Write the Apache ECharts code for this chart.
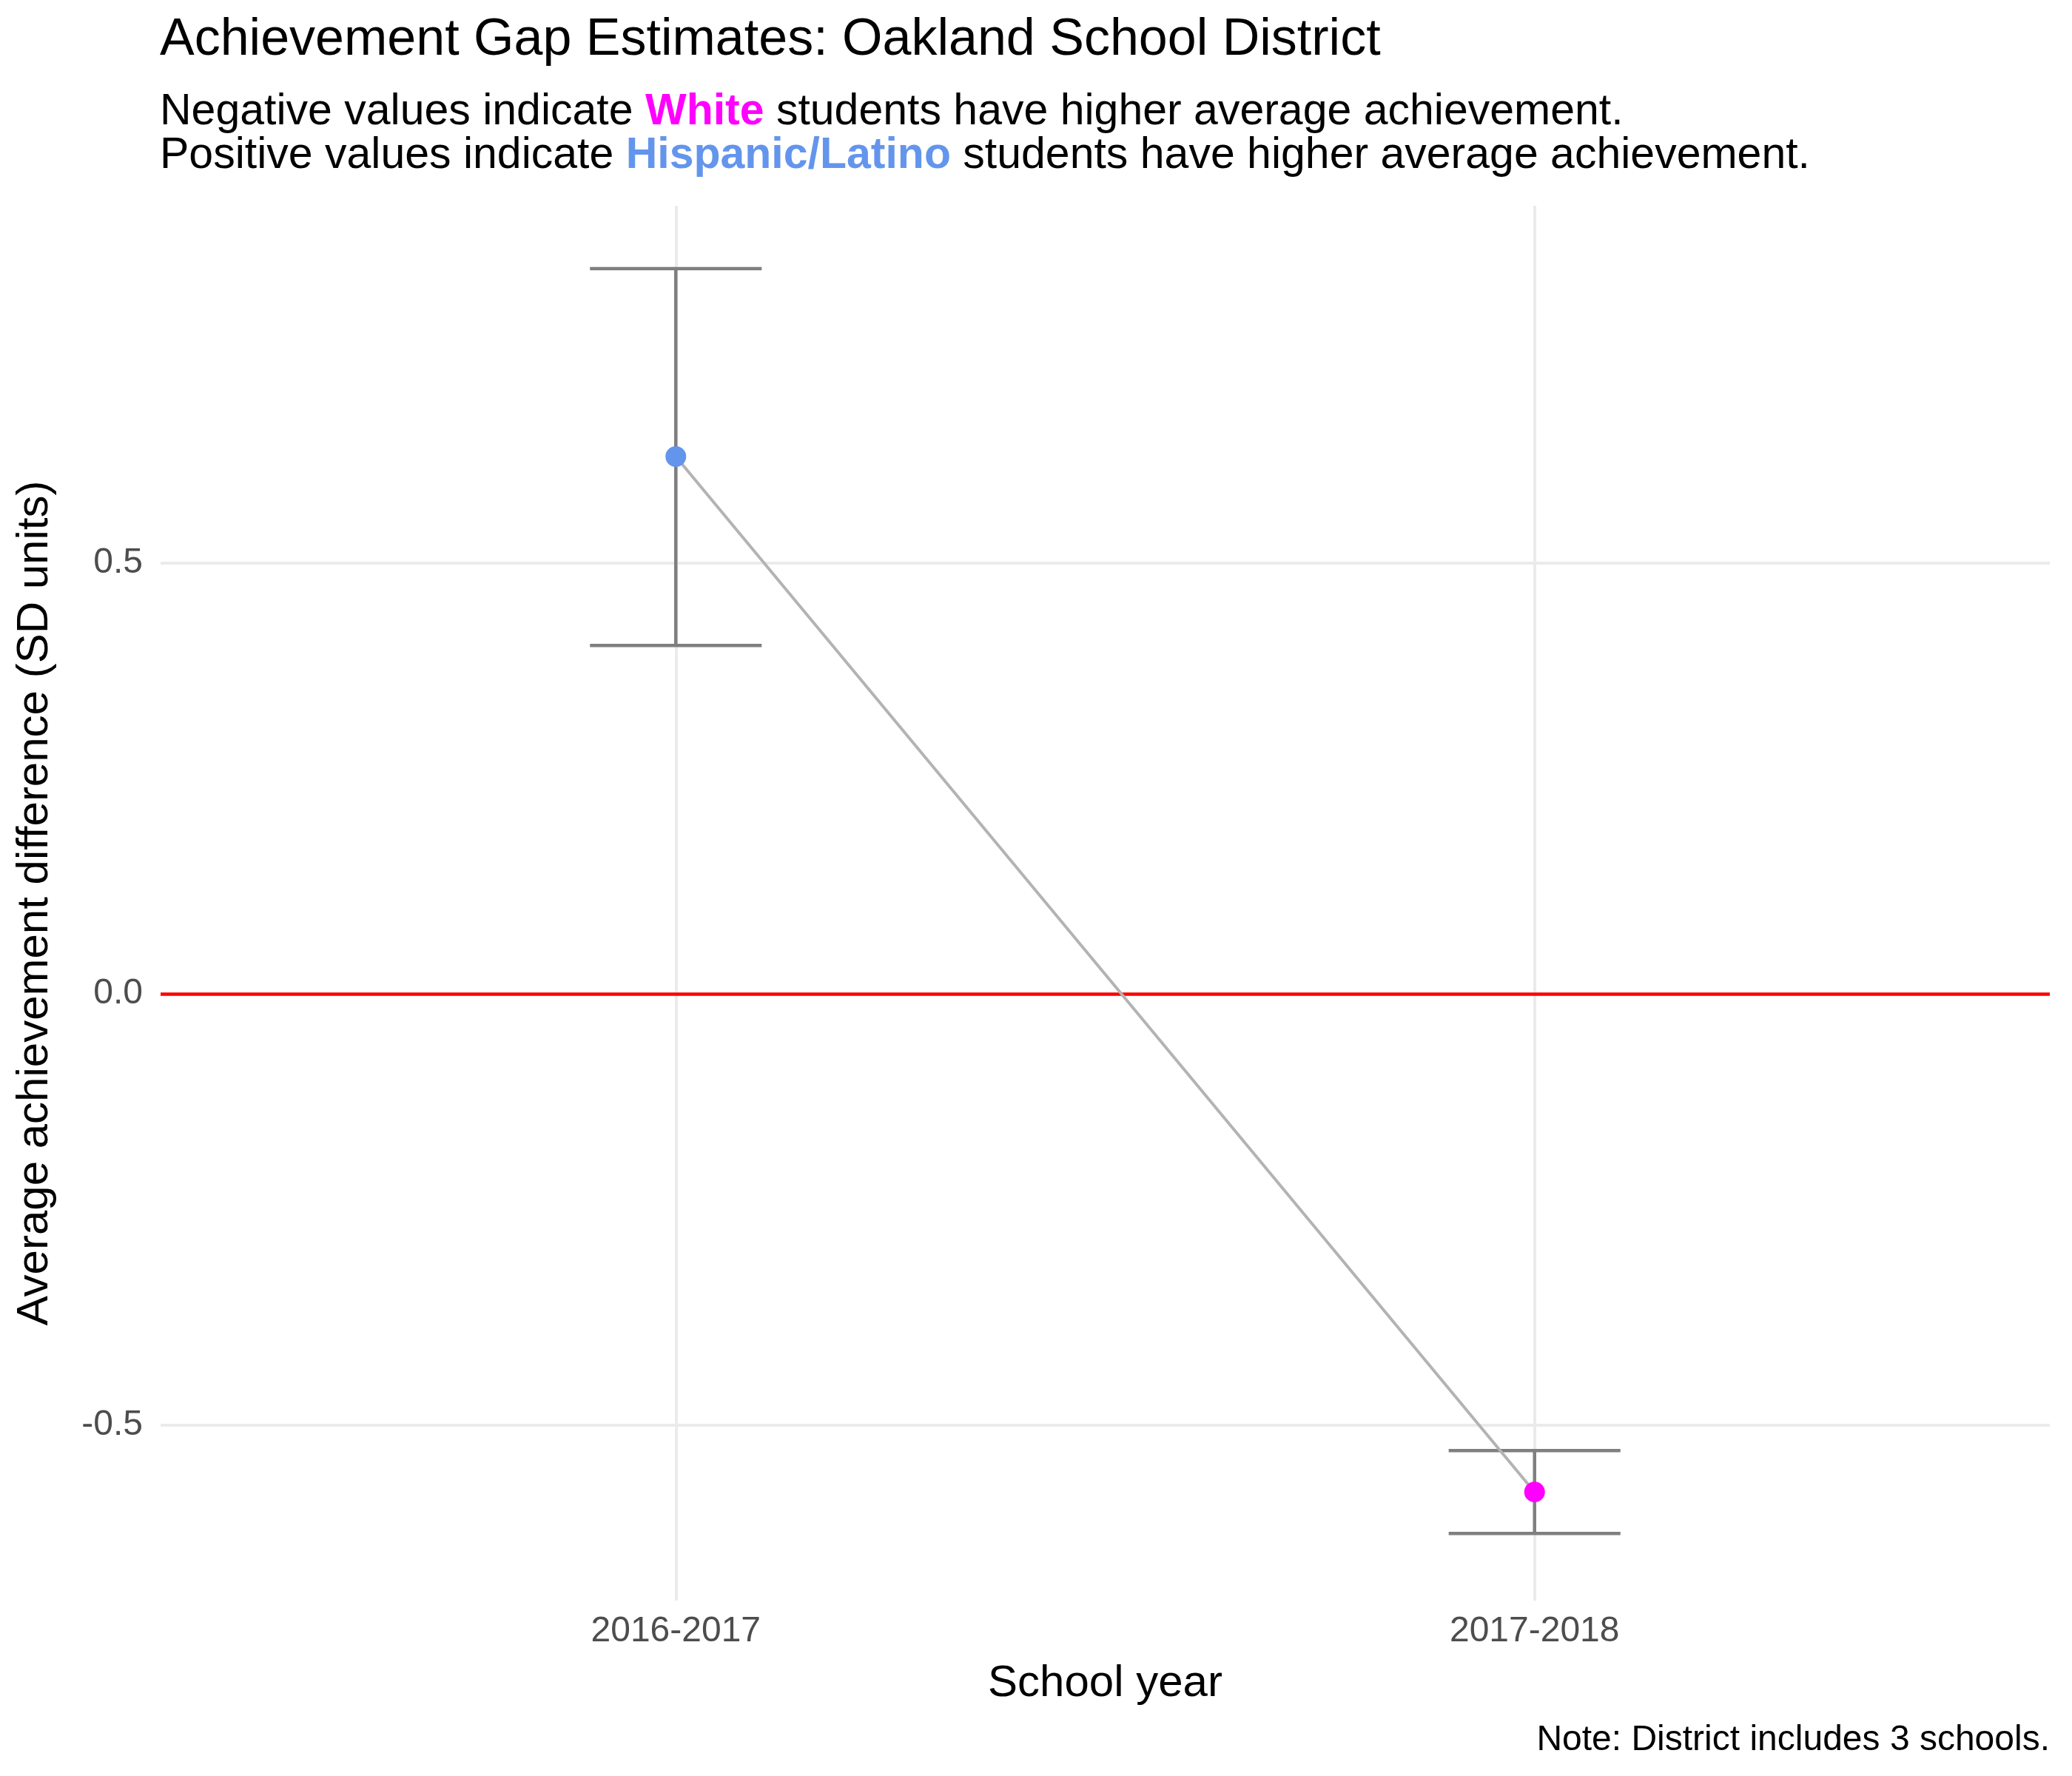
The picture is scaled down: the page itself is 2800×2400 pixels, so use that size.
<!DOCTYPE html>
<html><head><meta charset="utf-8">
<script src="https://cdn.jsdelivr.net/npm/echarts@6/dist/echarts.min.js"></script>
<style>html,body{margin:0;background:#fff}#chart{width:2800px;height:2400px}</style>
</head><body><div id="chart"></div>
<script>
var years = ['2016-2017', '2017-2018'];
var gapEstimate = [0.623, -0.578];
var ciLower = [0.404, -0.626];
var ciUpper = [0.841, -0.530];
var pointColors = ['#6495ED', '#FF00FF'];
var yTicks = [-0.5, 0, 0.5];

var chart = echarts.init(document.getElementById('chart'));
var font = 'Liberation Sans, Arial, Helvetica, sans-serif';

var pts = years.map(function (y, i) { return [i + 1, gapEstimate[i]]; });
var bars = years.map(function (y, i) { return [i + 1, ciLower[i], ciUpper[i]]; });

var option = {
    animation: false,
    textStyle: {fontFamily: font},
    grid: {left: 217, right: 30, top: 278, bottom: 237},
    graphic: [
        {type: 'text', left: 216, top: 20, style: {text: 'Achievement Gap Estimates: Oakland School District', font: '70px ' + font, fill: '#000'}},
        {type: 'text', left: 216, top: 122, style: {
            text: 'Negative values indicate {w|White} students have higher average achievement.\nPositive values indicate {h|Hispanic/Latino} students have higher average achievement.',
            font: '59px ' + font, fill: '#000', lineHeight: 59,
            rich: {
                w: {fill: '#FF00FF', fontWeight: 'bold', fontSize: 59, fontFamily: font},
                h: {fill: '#6495ED', fontWeight: 'bold', fontSize: 59, fontFamily: font}
            }
        }},
        {type: 'text', right: 30, top: 2328, style: {text: 'Note: District includes 3 schools.', font: '48px ' + font, fill: '#000'}}
    ],
    xAxis: {
        type: 'value', min: 0.4, max: 2.6,
        name: 'School year', nameLocation: 'middle', nameGap: 82,
        nameTextStyle: {fontSize: 60, color: '#000'},
        axisLine: {show: false}, axisTick: {show: false}, splitLine: {show: false},
        axisLabel: {customValues: [1, 2], fontSize: 48, color: '#4d4d4d', margin: 18,
            formatter: function (v) { return years[Math.round(v) - 1] || ''; }}
    },
    yAxis: {
        type: 'value', min: -0.704, max: 0.914,
        name: 'Average achievement difference (SD units)', nameLocation: 'middle', nameGap: 140,
        nameTextStyle: {fontSize: 60, color: '#000'},
        axisLine: {show: false}, axisTick: {show: false}, splitLine: {show: false},
        axisLabel: {customValues: yTicks, fontSize: 48, color: '#4d4d4d', margin: 24,
            formatter: function (v) { return v.toFixed(1); }}
    },
    series: [
        {
            type: 'line', data: [], silent: true, z: 1,
            markLine: {
                symbol: 'none', silent: true, label: {show: false}, z: 1,
                lineStyle: {color: '#ebebeb', width: 4, type: 'solid'},
                data: yTicks.map(function (t) { return {yAxis: t}; })
                    .concat([{xAxis: 1}, {xAxis: 2}])
            }
        },
        {
            type: 'line', data: [], silent: true, z: 3,
            markLine: {
                symbol: 'none', silent: true, label: {show: false}, z: 3,
                lineStyle: {color: '#FF0000', width: 4.5, type: 'solid'},
                data: [{yAxis: 0}]
            }
        },
        {
            type: 'custom', z: 10, data: bars,
            renderItem: function (params, api) {
                var x = api.value(0);
                var lo = api.coord([x, api.value(1)]);
                var hi = api.coord([x, api.value(2)]);
                var l = api.coord([x - 0.1, 0])[0], r = api.coord([x + 0.1, 0])[0];
                var st = {stroke: '#7f7f7f', lineWidth: 4.5};
                return {type: 'group', children: [
                    {type: 'line', shape: {x1: lo[0], y1: lo[1], x2: hi[0], y2: hi[1]}, style: st},
                    {type: 'line', shape: {x1: l, y1: lo[1], x2: r, y2: lo[1]}, style: st},
                    {type: 'line', shape: {x1: l, y1: hi[1], x2: r, y2: hi[1]}, style: st}
                ]};
            }
        },
        {
            type: 'line', z: 12, data: pts, symbol: 'circle', symbolSize: 28,
            lineStyle: {color: '#b3b3b3', width: 4},
            itemStyle: {color: function (p) { return pointColors[p.dataIndex]; }}
        }
    ]
};
chart.setOption(option);
</script></body></html>
